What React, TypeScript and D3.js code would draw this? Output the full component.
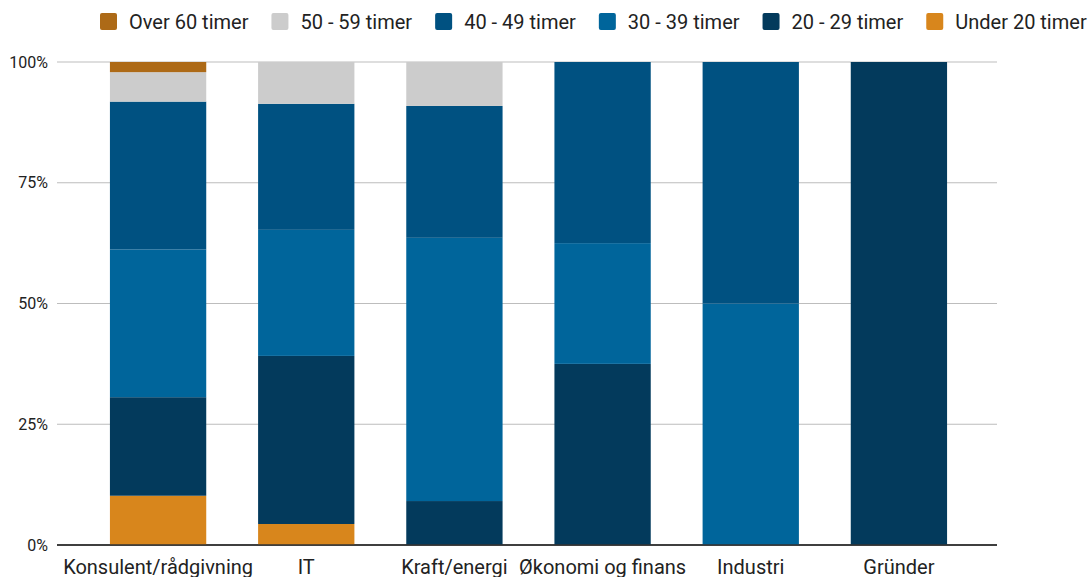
import React, { useEffect, useRef } from "react";
import * as d3 from "d3";

const categories = ["Konsulent/rådgivning", "IT", "Kraft/energi", "Økonomi og finans", "Industri", "Gründer"];
const seriesNames = ["Under 20 timer", "20 - 29 timer", "30 - 39 timer", "40 - 49 timer", "50 - 59 timer", "Over 60 timer"];
const seriesColors = ["#d8861c", "#033a5c", "#00659b", "#005181", "#cccccc", "#ad6a17"];
// percentages per category, in order of seriesNames
const under20 = [10.2, 4.35, 0, 0, 0, 0];
const t20_29 = [20.4, 34.8, 9.1, 37.5, 0, 100];
const t30_39 = [30.6, 26.1, 54.5, 25, 50, 0];
const t40_49 = [30.6, 26.1, 27.3, 37.5, 50, 0];
const t50_59 = [6.1, 8.65, 9.1, 0, 0, 0];
const over60 = [2.1, 0, 0, 0, 0, 0];
const yTicks = [0, 25, 50, 75, 100];
const legendOrder = ["Over 60 timer", "50 - 59 timer", "40 - 49 timer", "30 - 39 timer", "20 - 29 timer", "Under 20 timer"];

const W = 1091, H = 577;

export default function App() {
  const ref = useRef<SVGSVGElement>(null);
  useEffect(() => {
    const svg = d3.select(ref.current);
    svg.selectAll("*").remove();
    const font = "Roboto, 'Noto Sans', sans-serif";
    const seriesVals = [under20, t20_29, t30_39, t40_49, t50_59, over60];
    const rows = categories.map((c, i) => {
      const r: any = { cat: c };
      seriesNames.forEach((s, k) => (r[s] = seriesVals[k][i]));
      return r;
    });
    const stack = d3.stack().keys(seriesNames)(rows);
    const x = d3.scaleBand().domain(categories).range([84, 973]).paddingInner(0.35).paddingOuter(0.175);
    const y = d3.scaleLinear().domain([0, 100]).range([545, 62]);

    // gridlines
    svg.append("g").selectAll("line").data(yTicks).join("line")
      .attr("x1", 57).attr("x2", 997)
      .attr("y1", d => y(d)).attr("y2", d => y(d))
      .attr("stroke", d => (d === 0 ? "#333" : "#bdbdbd")).attr("stroke-width", d => (d === 0 ? 1.3 : 1.2));
    svg.append("g").selectAll("text").data(yTicks).join("text")
      .attr("x", 48).attr("y", d => y(d)).attr("dy", "0.35em")
      .attr("text-anchor", "end").attr("font-family", font).attr("font-size", 16).attr("fill", "#222")
      .text(d => d + "%");

    // bars
    const g = svg.append("g");
    stack.forEach((layer, k) => {
      g.append("g").attr("fill", seriesColors[k]).selectAll("rect")
        .data(layer.filter(d => d[1] - d[0] > 0)).join("rect")
        .attr("x", (d: any) => x(d.data.cat)!)
        .attr("width", x.bandwidth())
        .attr("y", d => y(d[1]))
        .attr("height", d => y(d[0]) - y(d[1]));
    });
    // zero line on top
    svg.append("line").attr("x1", 57).attr("x2", 997).attr("y1", y(0)).attr("y2", y(0))
      .attr("stroke", "#333").attr("stroke-width", 1.3);

    // x labels
    svg.append("g").selectAll("text").data(categories).join("text")
      .attr("x", d => x(d)! + x.bandwidth() / 2).attr("y", 567).attr("dy", "0.35em")
      .attr("text-anchor", "middle").attr("font-family", font).attr("font-size", 20).attr("fill", "#222")
      .text(d => d);

    // legend
    const lg = svg.append("g");
    let lx = 100;
    legendOrder.forEach(name => {
      const k = seriesNames.indexOf(name);
      lg.append("rect").attr("x", lx).attr("y", 13).attr("width", 17).attr("height", 17).attr("rx", 2)
        .attr("fill", seriesColors[k]);
      const t = lg.append("text").attr("x", lx + 29).attr("y", 22).attr("dy", "0.35em")
        .attr("font-family", font).attr("font-size", 20).attr("fill", "#222").text(name);
      const w = (t.node() as SVGTextElement).getComputedTextLength();
      lx += 29 + w + 23;
    });
  }, []);
  return (
    <svg ref={ref} width={W} height={H} style={{ position: "absolute", left: 0, top: 0, background: "#fff" }} />
  );
}
